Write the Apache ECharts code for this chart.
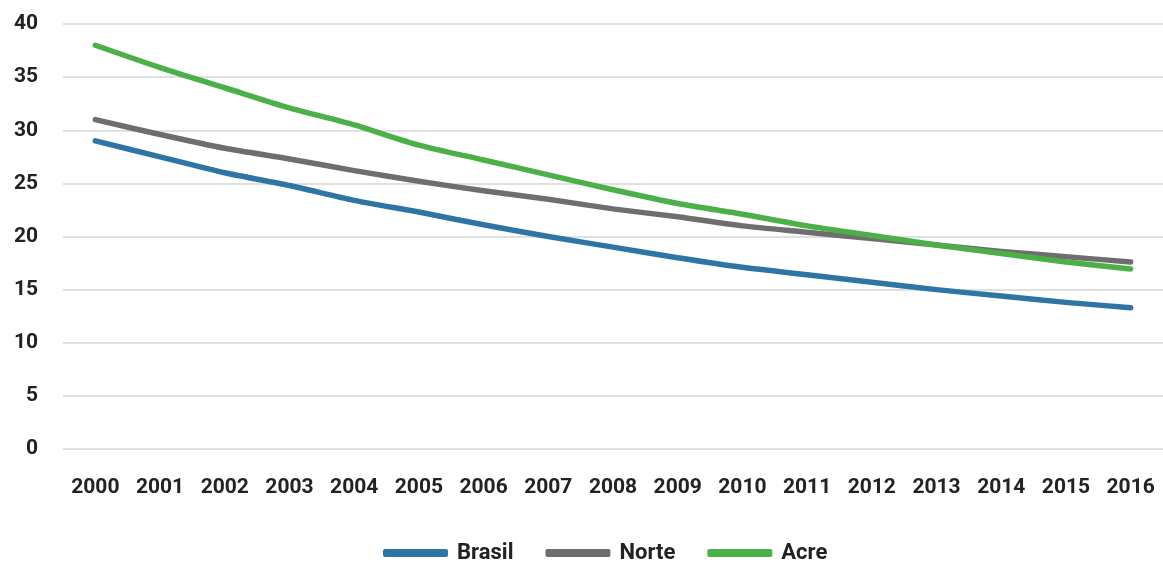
<!DOCTYPE html>
<html><head><meta charset="utf-8">
<script src="https://cdn.jsdelivr.net/npm/echarts@6/dist/echarts.min.js"></script>
<style>html,body{margin:0;padding:0;background:#fff}#c{width:1163px;height:562px}</style>
</head><body><div id="c"></div>
<script>
const years = ['2000','2001','2002','2003','2004','2005','2006','2007','2008','2009','2010','2011','2012','2013','2014','2015','2016'];
const brasil = [29.0,27.5,26.0,24.8,23.4,22.3,21.1,20.0,19.0,18.0,17.1,16.4,15.7,15.0,14.4,13.8,13.3];
const norte  = [31.0,29.6,28.3,27.3,26.2,25.2,24.3,23.5,22.6,21.85,21.0,20.4,19.8,19.2,18.6,18.1,17.6];
const acre   = [38.0,35.9,34.0,32.1,30.5,28.6,27.2,25.8,24.4,23.1,22.1,21.0,20.1,19.2,18.4,17.6,16.95];
const yTicks = [0,5,10,15,20,25,30,35,40];

const chart = echarts.init(document.getElementById('c'));
const font = 'Roboto';
const mk = (name, data, color) => ({
  name, type:'line', data, smooth:0.25, symbol:'none',
  lineStyle:{width:5.5, color, cap:'round', join:'round'}, itemStyle:{color}
});
chart.setOption({
  animation:false,
  grid:{left:63, right:0, top:24, bottom:113},
  legend:{top:537, left:378, itemWidth:65, itemHeight:8, itemGap:32,
    icon:'roundRect',
    textStyle:{fontFamily:font, fontSize:22, fontWeight:'bold', color:'#222', padding:[0,0,0,4]},
    data:['Brasil','Norte','Acre']},
  xAxis:{type:'category', data:years, boundaryGap:true,
    axisLine:{show:false}, axisTick:{show:false},
    axisLabel:{fontFamily:font, fontSize:21, fontWeight:'bold', color:'#222', margin:28}},
  yAxis:{type:'value', min:yTicks[0], max:yTicks[yTicks.length-1], interval:5,
    axisLine:{show:false}, axisTick:{show:false},
    axisLabel:{fontFamily:font, fontSize:21, fontWeight:'bold', color:'#222', margin:25},
    splitLine:{lineStyle:{color:'#e0e0e0', width:2}}},
  series:[mk('Brasil',brasil,'#2E75A6'), mk('Norte',norte,'#6E6E6E'), mk('Acre',acre,'#4BB047')]
});
</script></body></html>
